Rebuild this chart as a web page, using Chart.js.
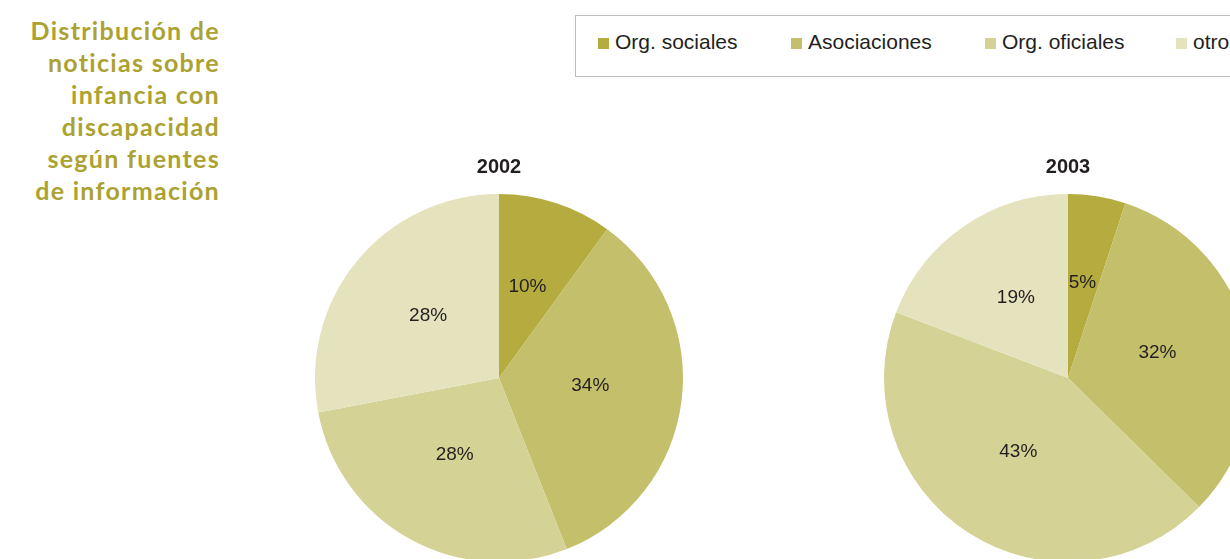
<!DOCTYPE html>
<html>
<head>
<meta charset="utf-8">
<script src="https://cdn.jsdelivr.net/npm/chart.js@4"></script>
<style>
  html, body { margin: 0; padding: 0; background: #fff; width: 1230px; height: 559px; overflow: hidden; position: relative; }
  #heading {
    position: absolute; right: 1010px; top: 14px; width: 230px;
    text-align: right; color: #aba232; font-family: Lato, sans-serif; font-weight: 700;
    font-size: 25px; line-height: 32px; letter-spacing: 1.3px;
  }
  #legend {
    position: absolute; left: 575px; top: 15px; width: 700px; height: 62px;
    border: 1px solid #bdbdbd; box-sizing: border-box;
    font-family: "Liberation Sans", Arial, sans-serif; font-size: 21px; color: #231f20;
  }
  .item { position: absolute; top: 14px; white-space: nowrap; }
  .item i { display: inline-block; width: 11px; height: 11px; margin-right: 6px; vertical-align: 0px; }
  .pie { position: absolute; top: 155px; }
</style>
</head>
<body>
<div id="heading">Distribución de<br>noticias sobre<br>infancia con<br>discapacidad<br>según fuentes<br>de información</div>
<div id="legend"></div>
<canvas id="pie2002" class="pie" width="368" height="407" style="left:315px"></canvas>
<canvas id="pie2003" class="pie" width="368" height="407" style="left:884px"></canvas>
<script>
// fuentes de información
var fuentes = ["Org. sociales", "Asociaciones", "Org. oficiales", "otros"];
var colores = ["#b5ac3f", "#c4bf6a", "#d5d295", "#e5e3bd"];

// porcentajes por año
var datos2002 = [10, 34, 28, 28];
var datos2003 = [5, 32, 43, 19];

// legend in the top box, built from the same arrays
var legendLeft = [22, 215, 409, 600];
var legend = document.getElementById("legend");
fuentes.forEach(function (f, i) {
    var d = document.createElement("div");
    d.className = "item";
    d.style.left = legendLeft[i] + "px";
    d.innerHTML = '<i style="background:' + colores[i] + '"></i>' + f;
    legend.appendChild(d);
});

// percentage text inside each slice
var sliceLabels = {
    id: "sliceLabels",
    afterDatasetsDraw: function (chart) {
        var ctx = chart.ctx;
        var data = chart.data.datasets[0].data;
        ctx.save();
        ctx.font = "19px 'Liberation Sans', Arial, sans-serif";
        ctx.fillStyle = "#231f20";
        ctx.textAlign = "center";
        ctx.textBaseline = "middle";
        chart.getDatasetMeta(0).data.forEach(function (arc, i) {
            var p = arc.getProps(["x", "y", "startAngle", "endAngle", "outerRadius"], true);
            var mid = (p.startAngle + p.endAngle) / 2;
            var r = p.outerRadius * 0.5;
            ctx.fillText(data[i] + "%", p.x + Math.cos(mid) * r, p.y + Math.sin(mid) * r - 4);
        });
        ctx.restore();
    }
};

function pie(id, year, values) {
    new Chart(document.getElementById(id), {
        type: "pie",
        data: {
            labels: fuentes,
            datasets: [{ data: values, backgroundColor: colores, borderWidth: 0 }]
        },
        options: {
            responsive: false,
            animation: false,
            layout: { padding: 0 },
            plugins: {
                legend: { display: false },
                tooltip: { enabled: false },
                title: {
                    display: true,
                    text: year,
                    color: "#231f20",
                    font: { family: "'Liberation Sans', Arial, sans-serif", size: 20, weight: "bold" },
                    padding: { top: 0, bottom: 15 }
                }
            }
        },
        plugins: [sliceLabels]
    });
}

pie("pie2002", "2002", datos2002);
pie("pie2003", "2003", datos2003);
</script>
</body>
</html>
